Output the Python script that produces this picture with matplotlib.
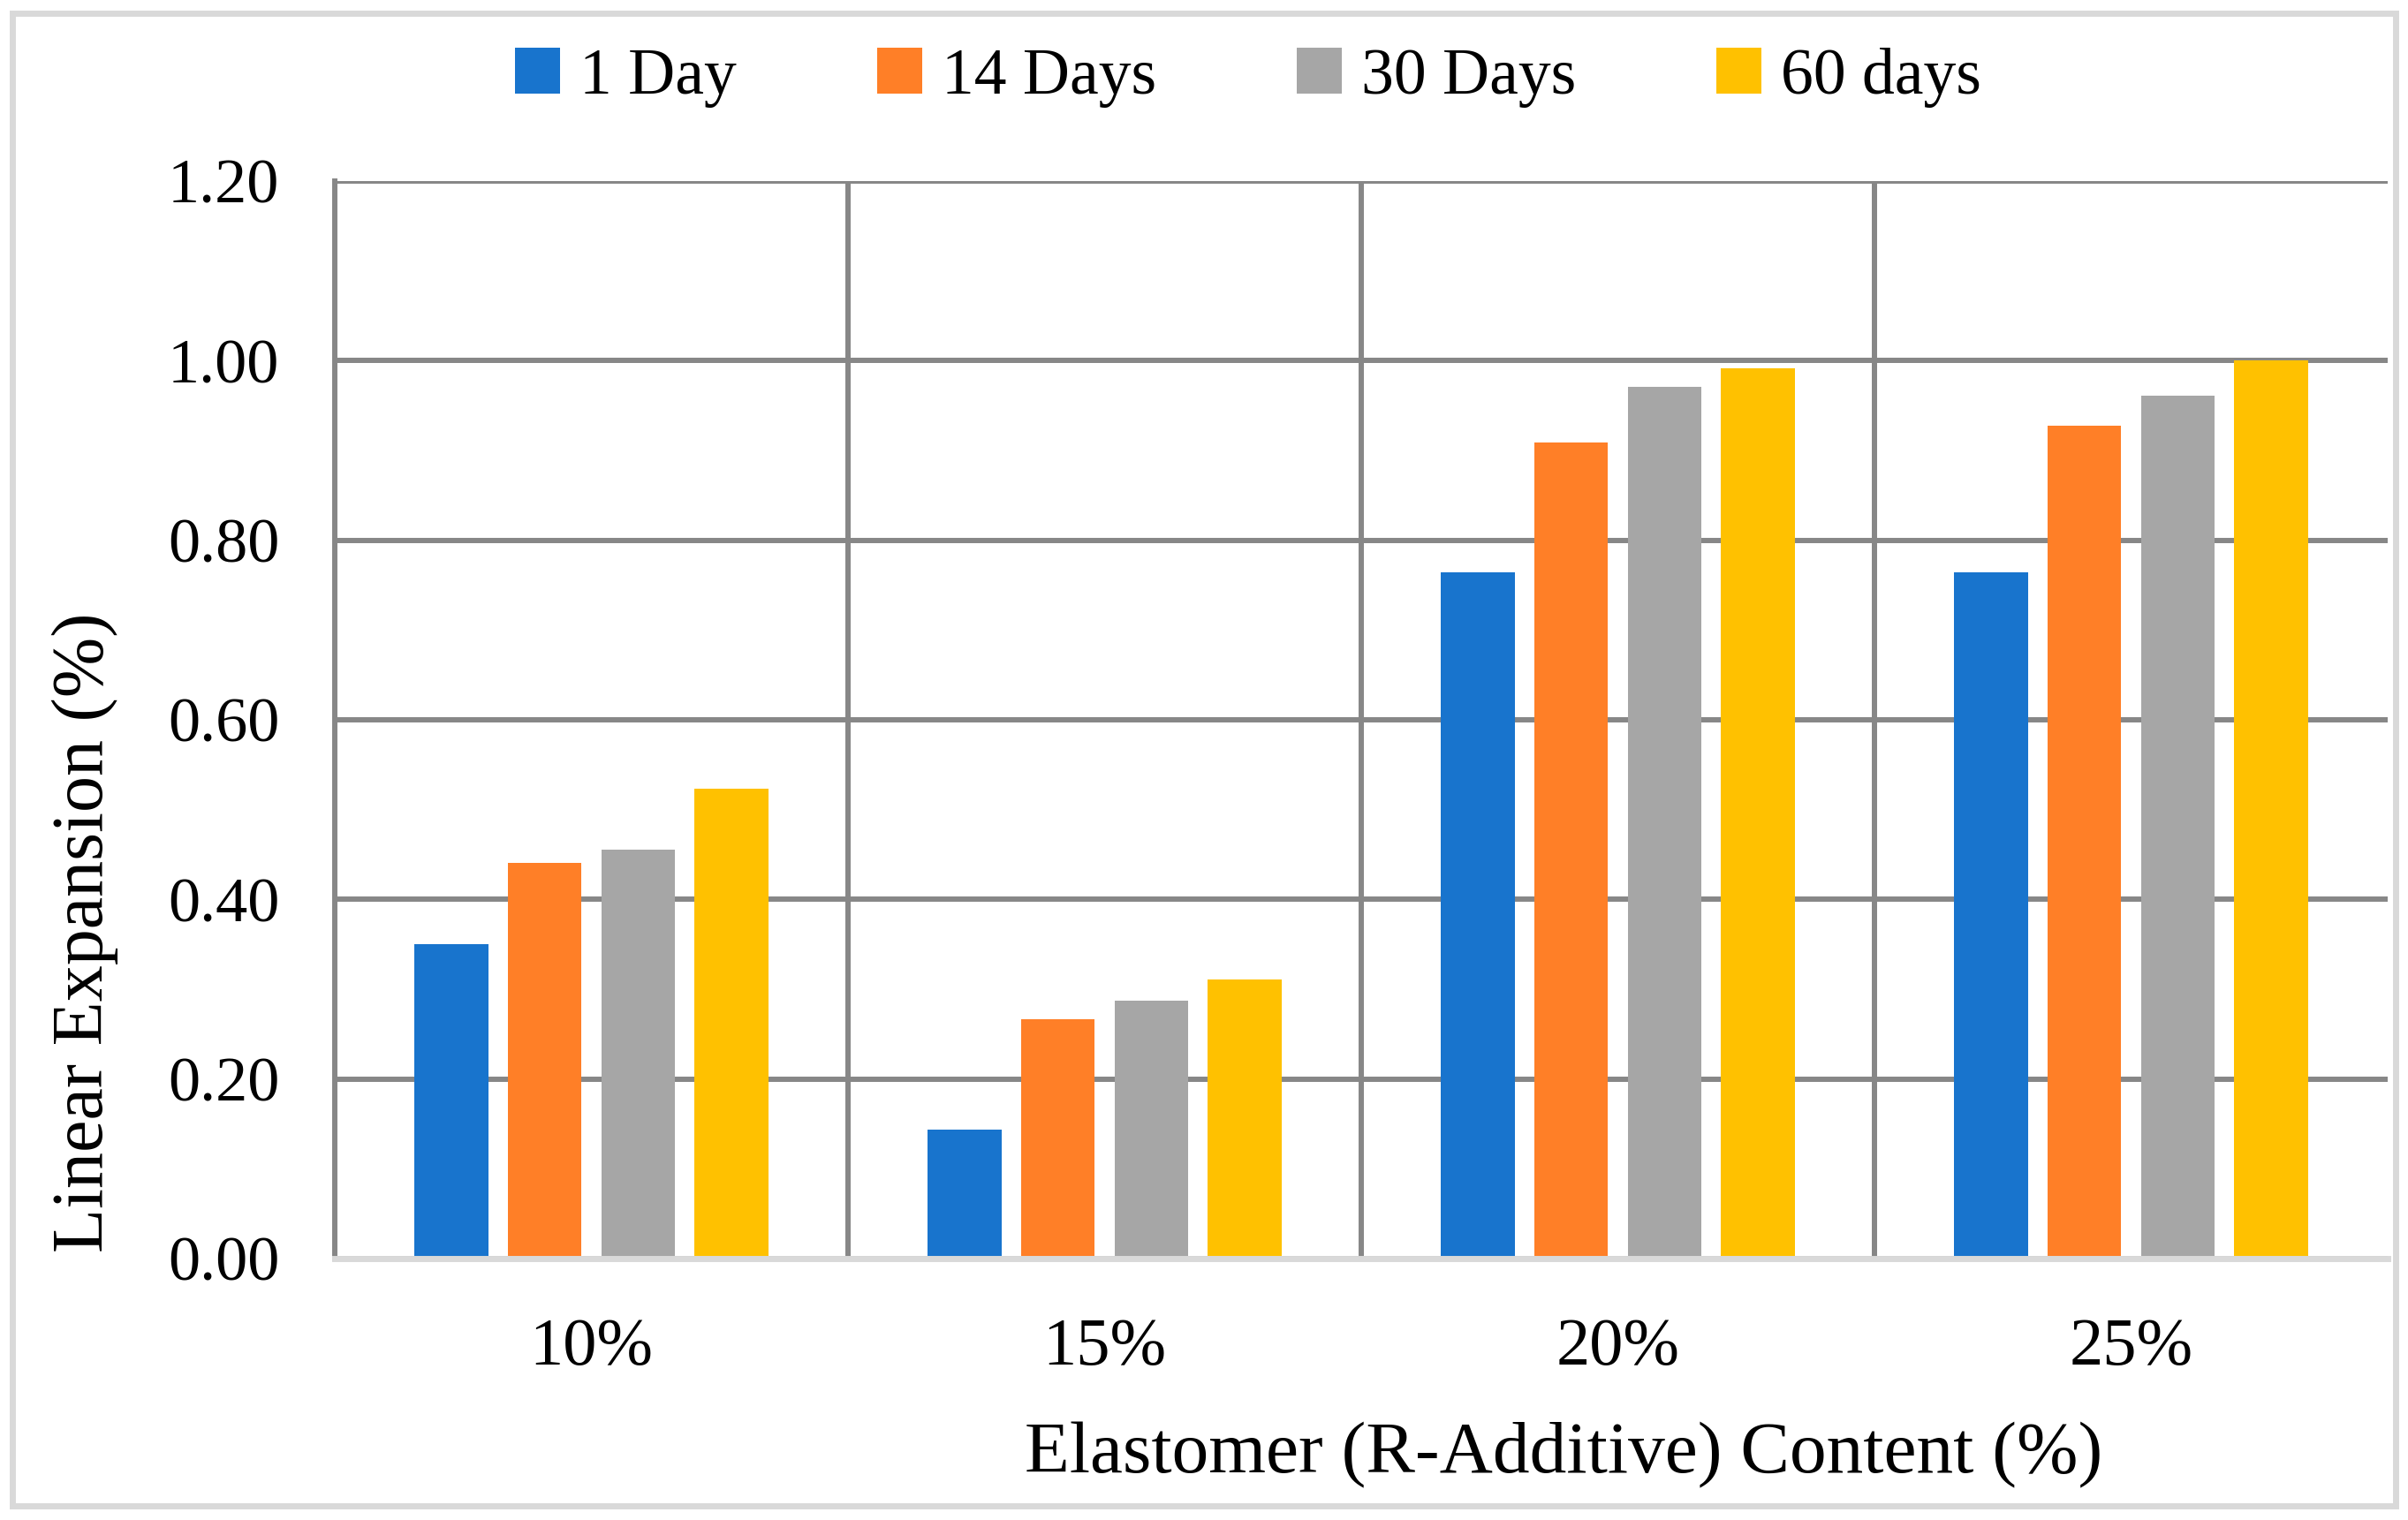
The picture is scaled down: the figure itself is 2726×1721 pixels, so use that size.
import matplotlib.pyplot as plt
import numpy as np
from matplotlib.patches import Rectangle

plt.rcParams['font.family'] = ['Liberation Serif', 'DejaVu Serif']

categorias = ['10%', '15%', '20%', '25%']
series = ['1 Day', '14 Days', '30 Days', '60 days']
dia1 = [0.350, 0.144, 0.764, 0.764]
dias14 = [0.441, 0.267, 0.909, 0.928]
dias30 = [0.455, 0.287, 0.971, 0.961]
dias60 = [0.523, 0.311, 0.991, 1.000]
cores = ['#1874CD', '#FF7F27', '#A6A6A6', '#FFC100']
yticks = [0.0, 0.2, 0.4, 0.6, 0.8, 1.0, 1.2]

valores = [dia1, dias14, dias30, dias60]

fig = plt.figure(figsize=(27.26, 17.21), dpi=100)
W, H = 2726, 1721
ax = fig.add_axes([379 / W, 1 - 1425 / H, (2703 - 379) / W, (1425 - 205) / H])

x = np.arange(len(categorias))
passo = 0.182
largura = 0.144
for k in range(4):
    ax.bar(x + (k - 1.5) * passo, valores[k], largura, color=cores[k],
           label=series[k], zorder=3)

ax.set_xlim(-0.5, 3.5)
ax.set_ylim(0, 1.2)
ax.set_yticks(yticks)
ax.set_yticklabels(['%.2f' % v for v in yticks], fontsize=52)
ax.set_xticks(x)
ax.set_xticklabels(categorias, fontsize=55)
ax.set_xticks([0.5, 1.5, 2.5], minor=True)
ax.tick_params(axis='both', which='both', length=0)
ax.tick_params(axis='x', pad=48)
ax.tick_params(axis='y', pad=45)

ax.grid(axis='y', which='major', color='#878787', linewidth=4.3, zorder=0)
ax.grid(axis='x', which='minor', color='#878787', linewidth=4.3, zorder=0)
ax.grid(axis='x', which='major', visible=False)

for lado in ['top', 'right']:
    ax.spines[lado].set_visible(False)
ax.spines['left'].set_color('#878787')
ax.spines['left'].set_linewidth(4.3)
ax.spines['bottom'].set_color('#D9D9D9')
ax.spines['bottom'].set_linewidth(5)
ax.spines['bottom'].set_zorder(4)

fig.text(96 / W, 1 - 1056 / H, 'Linear Expansion (%)', rotation=90,
         ha='center', va='center', fontsize=59)
fig.text(1770 / W, 1 - 1648 / H, 'Elastomer (R-Additive) Content (%)',
         ha='center', va='center', fontsize=60)

fig.legend(loc='center', bbox_to_anchor=(1413 / W, 1 - 88 / H), ncol=4,
           frameon=False, fontsize=53, handlelength=0.7, handleheight=0.7,
           handletextpad=0.3, columnspacing=2.15)

fig.patches.append(Rectangle((14 / W, 1 - 1705 / H), (2712 - 14) / W,
                             (1705 - 15) / H, transform=fig.transFigure,
                             fill=False, edgecolor='#D9D9D9', linewidth=5))

fig.savefig('out.png', dpi=100)
